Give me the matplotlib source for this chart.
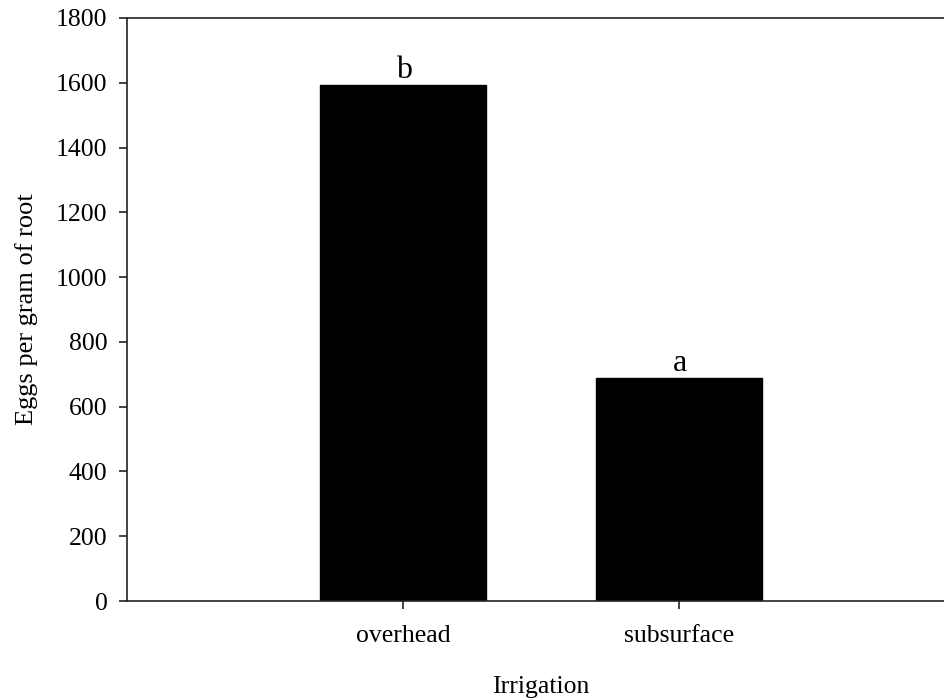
import numpy as np
import matplotlib.pyplot as plt

# Data
categories = ['overhead', 'subsurface']
eggs = [1593, 688]
letters = ['b', 'a']
y_ticks = [0, 200, 400, 600, 800, 1000, 1200, 1400, 1600, 1800]


def main():
    plt.rcParams['font.family'] = ['Liberation Serif', 'DejaVu Serif']

    fig = plt.figure(figsize=(9.45, 7.0), dpi=100)
    ax = fig.add_axes([127 / 945, 99 / 700, 828 / 945, 583 / 700])

    x = np.arange(len(categories))
    ax.bar(x, eggs, width=0.6, color='black', edgecolor='black')

    # significance letters above bars
    for xi, val, lab in zip(x, eggs, letters):
        ax.annotate(lab, (xi, val), xytext=(1, 0), textcoords='offset points',
                    ha='center', va='bottom', fontsize=23)

    ax.set_xlim(-1, 2)
    ax.set_ylim(0, 1800)
    ax.set_xticks(x)
    ax.set_xticklabels(categories)
    ax.set_yticks(y_ticks)

    ax.tick_params(axis='both', direction='out', length=6, width=1.2,
                   labelsize=18.5, color='#222222')
    ax.tick_params(axis='x', pad=11)
    ax.tick_params(axis='y', pad=8)

    for side in ['left', 'bottom', 'top']:
        ax.spines[side].set_linewidth(1.2)
        ax.spines[side].set_color('#222222')
    ax.spines['right'].set_visible(False)

    ax.set_xlabel('Irrigation', fontsize=18.5, labelpad=21)
    ax.set_ylabel('Eggs per gram of root', fontsize=19, labelpad=13)

    fig.savefig('out.png', dpi=100)
    plt.close(fig)


if __name__ == "__main__":
    main()
